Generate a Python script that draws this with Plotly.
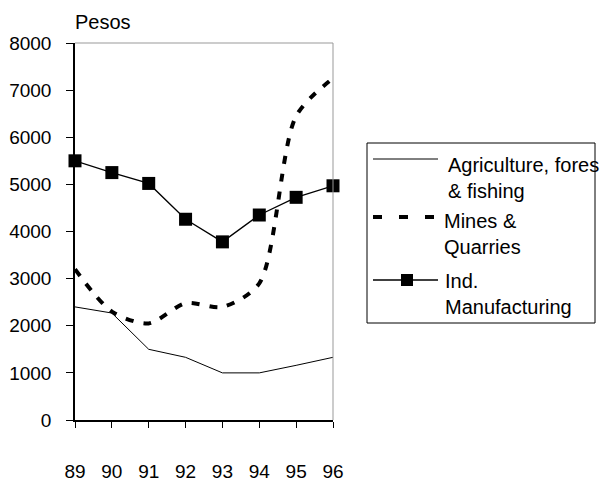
import plotly.graph_objects as go

# Data
years = [89, 90, 91, 92, 93, 94, 95, 96]
year_labels = ["89", "90", "91", "92", "93", "94", "95", "96"]
agriculture = [2400, 2270, 1500, 1330, 1000, 1000, 1160, 1330]
mines = [3200, 2300, 2050, 2480, 2400, 2900, 6450, 7250]
manufacturing = [5500, 5250, 5020, 4260, 3780, 4350, 4725, 4970]
y_ticks = [0, 1000, 2000, 3000, 4000, 5000, 6000, 7000, 8000]

FONT = "Liberation Sans, Arial, sans-serif"
W, H = 605, 484
L, R, T, B = 75, 333, 43, 420  # plot area in pixels


def px(x):
    return (x - L) / (R - L)


def py(y):
    return (B - y) / (B - T)


fig = go.Figure()

fig.add_trace(go.Scatter(
    x=years, y=agriculture, mode="lines", name="Agriculture, forestry & fishing",
    line=dict(color="black", width=1), cliponaxis=False, showlegend=False))
fig.add_trace(go.Scatter(
    x=years, y=mines, mode="lines", name="Mines & Quarries",
    line=dict(color="black", width=4, dash="8px,10px", shape="spline", smoothing=0.8),
    cliponaxis=False, showlegend=False))
fig.add_trace(go.Scatter(
    x=years, y=manufacturing, mode="lines+markers", name="Ind. Manufacturing",
    line=dict(color="black", width=1.3),
    marker=dict(symbol="square", size=13, color="black"),
    cliponaxis=False, showlegend=False))

# Frame and hand-drawn legend
shapes = [
    # grey frame on top and right
    dict(type="path", xref="paper", yref="paper",
         path="M 0,1 L 1,1 L 1,0", line=dict(color="#999999", width=1)),
    dict(type="rect", xref="paper", yref="paper",
         x0=px(367), x1=px(595), y0=py(143), y1=py(323),
         line=dict(color="black", width=1), fillcolor="rgba(0,0,0,0)", layer="above"),
    dict(type="line", xref="paper", yref="paper",
         x0=px(373), x1=px(438), y0=py(159), y1=py(159),
         line=dict(color="black", width=1)),
    dict(type="line", xref="paper", yref="paper",
         x0=px(373), x1=px(438), y0=py(217), y1=py(217),
         line=dict(color="black", width=4, dash="9px,17px")),
    dict(type="line", xref="paper", yref="paper",
         x0=px(373), x1=px(438), y0=py(280), y1=py(280),
         line=dict(color="black", width=1.3)),
    dict(type="rect", xref="paper", yref="paper",
         x0=px(401), x1=px(413), y0=py(274), y1=py(286),
         line=dict(width=0), fillcolor="black"),
]

legend_font = dict(family=FONT, size=20, color="black")
annotations = [
    dict(text="Pesos", xref="paper", yref="paper", x=px(73), y=py(22),
         xanchor="left", yanchor="middle", showarrow=False,
         font=dict(family=FONT, size=20, color="black")),
    dict(text="Agriculture, fores<br>& fishing", xref="paper", yref="paper",
         x=px(446), y=py(178), xanchor="left", yanchor="middle", align="left",
         showarrow=False, font=legend_font),
    dict(text="Mines &<br>Quarries", xref="paper", yref="paper",
         x=px(442), y=py(234), xanchor="left", yanchor="middle", align="left",
         showarrow=False, font=legend_font),
    dict(text="Ind.<br>Manufacturing", xref="paper", yref="paper",
         x=px(443), y=py(294), xanchor="left", yanchor="middle", align="left",
         showarrow=False, font=legend_font),
]

tick_font = dict(family=FONT, size=19, color="black")

fig.update_layout(
    width=W, height=H,
    margin=dict(l=L, r=W - R, t=T, b=H - B, autoexpand=False),
    paper_bgcolor="white", plot_bgcolor="white",
    font=dict(family=FONT, color="black"),
    shapes=shapes, annotations=annotations,
    xaxis=dict(range=[89, 96], tickvals=years, ticktext=year_labels,
               showgrid=False, zeroline=False, showline=True,
               linecolor="black", linewidth=1.5, automargin=False,
               ticks="outside", ticklen=6, tickwidth=1.2, tickcolor="black",
               tickfont=tick_font, ticklabelstandoff=27),
    yaxis=dict(range=[0, 8000], tickvals=y_ticks,
               showgrid=False, zeroline=False, showline=True,
               linecolor="black", linewidth=1.5, automargin=False,
               ticks="outside", ticklen=7, tickwidth=1.2, tickcolor="black",
               tickfont=tick_font, ticklabelstandoff=11),
    # inner halves of the crossing tick marks
    xaxis2=dict(range=[89, 96], tickvals=years, overlaying="x", anchor="y",
                side="bottom", showgrid=False, zeroline=False, showline=False,
                ticks="inside", ticklen=7, tickwidth=1.2, tickcolor="black",
                showticklabels=False, automargin=False),
    yaxis2=dict(range=[0, 8000], tickvals=y_ticks, overlaying="y", anchor="x",
                side="left", showgrid=False, zeroline=False, showline=False,
                ticks="inside", ticklen=7, tickwidth=1.2, tickcolor="black",
                showticklabels=False, automargin=False),
)

fig.write_html("out.html")
